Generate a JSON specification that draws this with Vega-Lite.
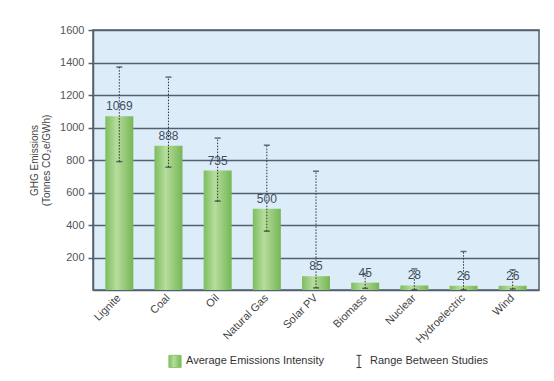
{
  "$schema": "https://vega.github.io/schema/vega-lite/v6.json",
  "width": 446,
  "height": 260,
  "autosize": {"type": "none"},
  "padding": {"left": 93, "top": 30, "right": 15, "bottom": 91},
  "background": "white",
  "config": {
    "font": "Liberation Sans",
    "view": {"fill": "#dcedf9", "stroke": "#52606f", "strokeWidth": 1.5}
  },
  "data": {
    "values": [
      {"source": "Lignite", "value": 1069, "low": 790, "high": 1372},
      {"source": "Coal", "value": 888, "low": 756, "high": 1310},
      {"source": "Oil", "value": 735, "low": 547, "high": 935},
      {"source": "Natural Gas", "value": 500, "low": 362, "high": 891},
      {"source": "Solar PV", "value": 85, "low": 13, "high": 731},
      {"source": "Biomass", "value": 45, "low": 10, "high": 101},
      {"source": "Nuclear", "value": 28, "low": 2, "high": 130},
      {"source": "Hydroelectric", "value": 26, "low": 2, "high": 237},
      {"source": "Wind", "value": 26, "low": 6, "high": 124}
    ]
  },
  "encoding": {
    "x": {
      "field": "source",
      "type": "nominal",
      "sort": null,
      "title": null,
      "scale": {"paddingInner": 0.43, "paddingOuter": 0.25},
      "axis": {
        "labelAngle": -45,
        "labelAlign": "right",
        "labelBaseline": "middle",
        "labelPadding": 6,
        "labelFontSize": 11,
        "labelColor": "#444444",
        "ticks": false,
        "domainColor": "#52606f",
        "domainWidth": 1.5
      }
    }
  },
  "layer": [
    {
      "mark": {
        "type": "bar",
        "color": {"gradient": "linear", "x1": 0, "x2": 1, "y1": 0, "y2": 0,
          "stops": [
            {"offset": 0, "color": "#7dbd5f"},
            {"offset": 0.4, "color": "#b6dd9c"},
            {"offset": 1, "color": "#76b656"}
          ]}
      },
      "encoding": {
        "y": {
          "field": "value",
          "type": "quantitative",
          "scale": {"domain": [0, 1600], "nice": false},
          "title": ["GHG Emissions", "(Tonnes CO₂e/GWh)"],
          "axis": {
            "values": [200, 400, 600, 800, 1000, 1200, 1400, 1600],
            "tickCount": 20,
            "format": "d",
            "labelOverlap": false,
            "labelBound": false,
            "gridColor": "#52606f",
            "gridWidth": 1.5,
            "tickColor": "#52606f",
            "tickWidth": 1.5,
            "tickSize": 5,
            "domainColor": "#52606f",
            "domainWidth": 1.5,
            "labelFontSize": 11,
            "labelColor": "#555555",
            "labelPadding": 4,
            "titleFontSize": 10,
            "titleFontWeight": "normal",
            "titleColor": "#444444",
            "titlePadding": 8
          }
        }
      }
    },
    {
      "mark": {"type": "rule", "strokeDash": [1.5, 1.5], "strokeWidth": 1},
      "encoding": {
        "y": {"field": "low", "type": "quantitative"},
        "y2": {"field": "high"},
        "color": {
          "datum": "Range Between Studies",
          "type": "nominal",
          "scale": {
            "domain": ["Average Emissions Intensity", "Range Between Studies"],
            "range": ["#8cc870", "#333333"]
          },
          "legend": {
            "title": null,
            "orient": "none",
            "legendX": 75,
            "legendY": 324,
            "direction": "horizontal",
            "labelFontSize": 11,
            "labelColor": "#333333",
            "columnPadding": 28,
            "symbolSize": 150,
            "symbolStrokeWidth": 1,
            "encode": {
              "symbols": {
                "update": {
                  "shape": {"signal": "datum.value == 'Range Between Studies' ? 'M-0.4,-1H0.4M0,-1V1M-0.4,1H0.4' : 'square'"},
                  "fill": {"signal": "datum.value == 'Range Between Studies' ? 'transparent' : {gradient: 'linear', x1: 0, x2: 1, y1: 0, y2: 0, stops: [{offset: 0, color: '#7dbd5f'}, {offset: 0.4, color: '#b6dd9c'}, {offset: 1, color: '#76b656'}]}"},
                  "stroke": {"signal": "datum.value == 'Range Between Studies' ? '#333333' : 'transparent'"},
                  "strokeDash": {"value": []},
                  "strokeWidth": {"value": 1}
                }
              }
            }
          }
        }
      }
    },
    {
      "mark": {"type": "tick", "color": "#333333", "size": 6, "thickness": 1.5},
      "encoding": {"y": {"field": "high", "type": "quantitative"}}
    },
    {
      "mark": {"type": "tick", "color": "#333333", "size": 6, "thickness": 1.5},
      "encoding": {"y": {"field": "low", "type": "quantitative"}}
    },
    {
      "mark": {"type": "text", "baseline": "bottom", "dy": -3, "fontSize": 12, "color": "#3d4e60"},
      "encoding": {
        "y": {"field": "value", "type": "quantitative"},
        "text": {"field": "value", "type": "quantitative"}
      }
    }
  ]
}
